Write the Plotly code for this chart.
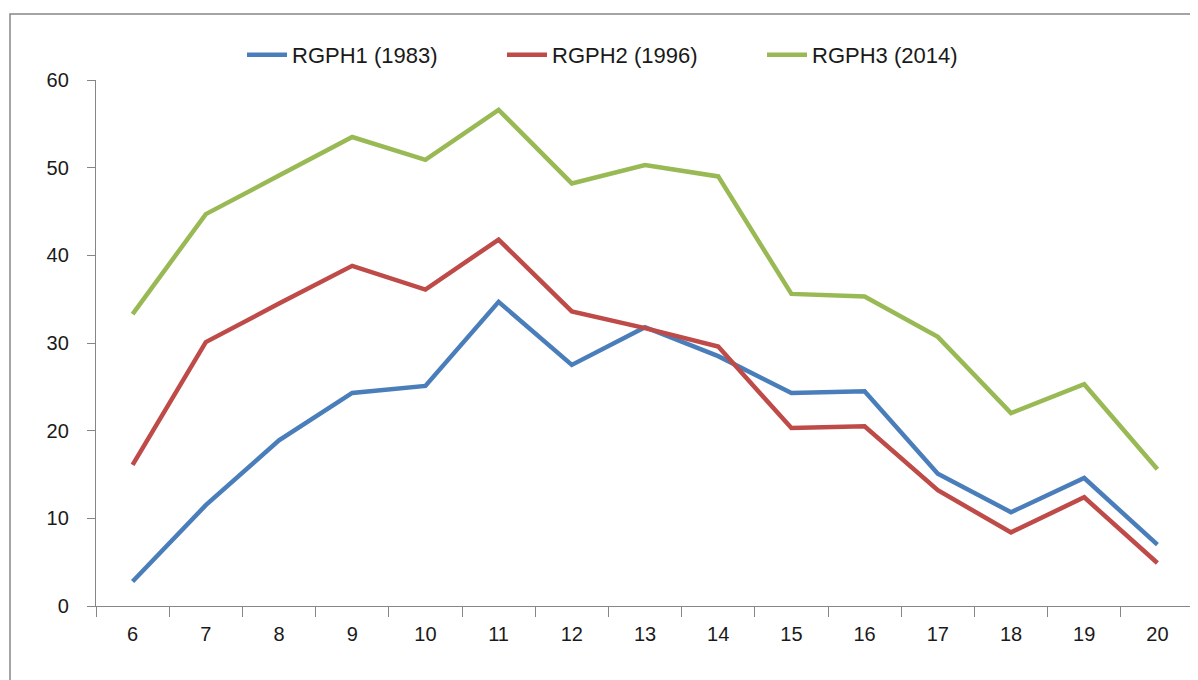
import plotly.graph_objects as go

ages = ["6", "7", "8", "9", "10", "11", "12", "13", "14", "15", "16", "17", "18", "19", "20"]
rgph1_1983 = [2.8, 11.5, 18.9, 24.3, 25.1, 34.7, 27.5, 31.8, 28.5, 24.3, 24.5, 15.1, 10.7, 14.6, 7.0]
rgph2_1996 = [16.1, 30.1, 34.5, 38.8, 36.1, 41.8, 33.6, 31.7, 29.6, 20.3, 20.5, 13.2, 8.4, 12.4, 4.9]
rgph3_2014 = [33.3, 44.7, 49.1, 53.5, 50.9, 56.6, 48.2, 50.3, 49.0, 35.6, 35.3, 30.7, 22.0, 25.3, 15.6]

series = [
    ("RGPH1 (1983)", rgph1_1983, "#4A7EBB"),
    ("RGPH2 (1996)", rgph2_1996, "#BE4B48"),
    ("RGPH3 (2014)", rgph3_2014, "#98B954"),
]

fig = go.Figure()
for name, vals, color in series:
    fig.add_trace(go.Scatter(x=ages, y=vals, name=name, mode="lines",
                             line=dict(color=color, width=4.5)))

axis_color = "#868686"
W, H = 1190, 672
L, T, R, B = 88, 72, 4, 74
pw, ph = W - L - R, H - T - B
fig.update_layout(
    width=W, height=H,
    margin=dict(l=L, r=R, t=T, b=B, autoexpand=False),
    plot_bgcolor="white", paper_bgcolor="white",
    font=dict(family="Liberation Sans, Arial, sans-serif", size=20, color="#1a1a1a"),
    showlegend=True,
    legend=dict(orientation="h", x=(234 - L) / pw, xanchor="left", y=1 + (T - 47) / ph, yanchor="middle",
                font=dict(size=22), itemwidth=40, entrywidth=205, bgcolor="rgba(0,0,0,0)"),
    xaxis=dict(type="category", range=[-0.5, 14.5], tickson="boundaries", ticks="outside", ticklen=10,
               tickcolor=axis_color, showline=True, linecolor=axis_color, linewidth=1.3,
               showgrid=False, zeroline=False, ticklabelstandoff=10),
    yaxis=dict(range=[0, 60], tickvals=[0, 10, 20, 30, 40, 50, 60], ticks="outside", ticklen=8,
               tickcolor=axis_color, showline=True, linecolor=axis_color, linewidth=1.3,
               showgrid=False, zeroline=False, ticklabelstandoff=14),
    shapes=[dict(type="rect", xref="paper", yref="paper",
                 x0=(2 - L) / pw, x1=1.05, y0=-0.2, y1=1 + (T - 6) / ph,
                 line=dict(color=axis_color, width=1.5), fillcolor="rgba(0,0,0,0)", layer="below")],
)

fig.write_html("out.html")
